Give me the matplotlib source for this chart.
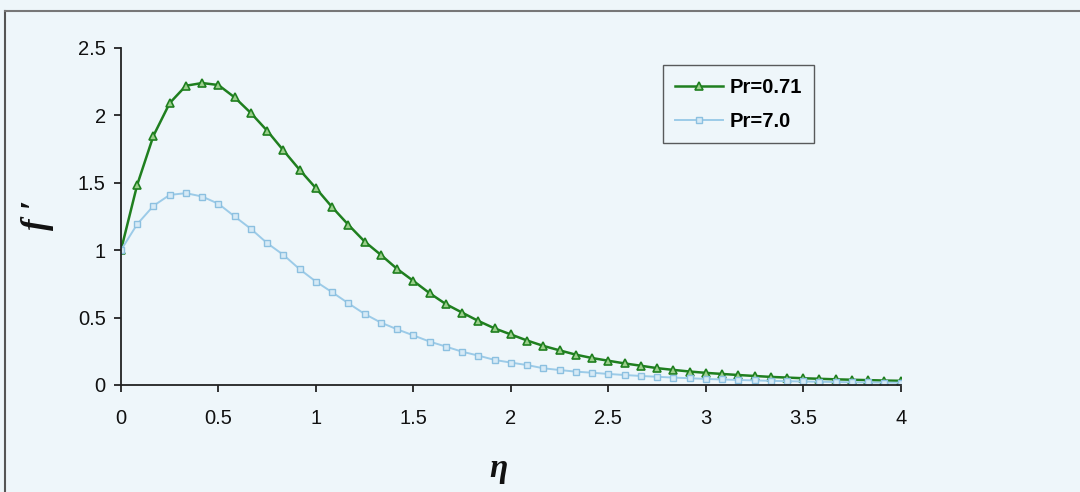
import numpy as np
import matplotlib.pyplot as plt

# eta grid (49 points from 0 to 4)
eta = np.linspace(0, 4, 49)

# f' for Pr = 0.71
f_pr071 = [1.0, 1.485, 1.849, 2.091, 2.22, 2.24, 2.225, 2.133, 2.017, 1.886,
           1.74, 1.596, 1.46, 1.319, 1.188, 1.064, 0.965, 0.861, 0.772, 0.681,
           0.6, 0.537, 0.475, 0.42, 0.375, 0.33, 0.29, 0.257, 0.225, 0.2,
           0.18, 0.16, 0.143, 0.125, 0.112, 0.1, 0.09, 0.082, 0.074, 0.067,
           0.06, 0.055, 0.05, 0.046, 0.042, 0.039, 0.036, 0.033, 0.031]

# f' for Pr = 7.0
f_pr7 = [1.0, 1.193, 1.329, 1.41, 1.423, 1.398, 1.344, 1.25, 1.158, 1.052,
         0.965, 0.859, 0.767, 0.688, 0.606, 0.527, 0.463, 0.413, 0.368, 0.322,
         0.285, 0.247, 0.218, 0.186, 0.166, 0.148, 0.124, 0.111, 0.099, 0.091,
         0.082, 0.074, 0.067, 0.061, 0.055, 0.05, 0.045, 0.041, 0.037, 0.034,
         0.031, 0.028, 0.026, 0.024, 0.022, 0.02, 0.019, 0.018, 0.017]

labels = ['Pr=0.71', 'Pr=7.0']

plt.rcParams['font.family'] = ['Liberation Sans', 'DejaVu Sans']
bg = '#eef6fa'

fig = plt.figure(figsize=(10.8, 4.92), dpi=100, facecolor=bg)
ax = fig.add_axes([0.112, 0.2175, 0.722, 0.685], facecolor=bg)

ax.plot(eta, f_pr071, color='#1f7f1f', lw=1.8, marker='^', ms=6,
        mfc='#9ccf8c', mec='#1f7f1f', mew=1.2, label=labels[0])
ax.plot(eta, f_pr7, color='#9ccbe8', lw=1.4, marker='s', ms=5,
        mfc='#d6eaf6', mec='#8cc0e0', mew=1.0, label=labels[1])

ax.set_xlim(0, 4)
ax.set_ylim(0, 2.5)
ax.set_xticks(np.arange(0, 4.01, 0.5))
ax.set_xticklabels(['0', '0.5', '1', '1.5', '2', '2.5', '3', '3.5', '4'])
ax.set_yticks(np.arange(0, 2.51, 0.5))
ax.set_yticklabels(['0', '0.5', '1', '1.5', '2', '2.5'])
ax.tick_params(direction='out', length=5, width=1.2, labelsize=14.5,
               colors='#111111')
ax.tick_params(axis='x', pad=12)
ax.tick_params(axis='y', pad=6)
for s in ['top', 'right']:
    ax.spines[s].set_visible(False)
for s in ['left', 'bottom']:
    ax.spines[s].set_linewidth(1.3)
    ax.spines[s].set_color('#222222')

# axis titles
fig.text(498 / 1080, 1 - 468 / 492, 'η', family='Liberation Serif',
         fontsize=24, fontweight='bold', style='italic',
         ha='center', va='center', color='#111111')
fig.text(37 / 1080, 1 - 215 / 492, 'f ′', family=['Liberation Serif', 'DejaVu Serif'],
         fontsize=25, fontweight='bold', style='italic', rotation=90,
         ha='center', va='center', color='#111111')

leg = ax.legend(loc='upper left', bbox_to_anchor=(0.695, 0.948), frameon=True,
                fancybox=False, edgecolor='#333333', facecolor=bg,
                prop={'weight': 'bold', 'size': 14.5}, handlelength=2.4,
                borderpad=0.6, labelspacing=0.75, handletextpad=0.3,
                borderaxespad=0)
leg.get_frame().set_linewidth(1.0)

# outer chart border (left and top only visible)
fig.add_artist(plt.Line2D([0.005, 0.005], [0.0, 0.977], color='#555555', lw=1.5))
fig.add_artist(plt.Line2D([0.005, 1.0], [0.977, 0.977], color='#777777', lw=1.5))

fig.savefig('out.png', dpi=100, facecolor=bg)
